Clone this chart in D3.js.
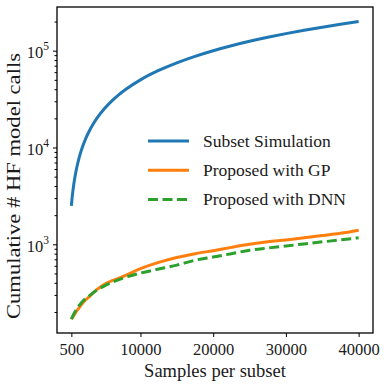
<!DOCTYPE html>
<html>
<head>
<meta charset="utf-8">
<script src="https://cdn.jsdelivr.net/npm/d3@7"></script>
<style>
  body { margin: 0; background: white; }
  text { font-family: "Liberation Serif", "DejaVu Serif", serif; fill: #1a1a1a; }
</style>
</head>
<body>
<div id="chart"></div>
<script>
// samples per subset
var samples = [500, 1000, 2000, 3000, 4000, 5000, 7500, 10000, 12500, 15000, 17500,
               20000, 22500, 25000, 27500, 30000, 32500, 35000, 37500, 40000];
// cumulative HF calls
var withGP = [169, 192, 245, 290, 340, 385, 460, 560, 650, 730, 800,
              860, 930, 1000, 1060, 1110, 1170, 1230, 1300, 1400];
var withDNN = [169, 201, 255, 295, 335, 370, 445, 505, 555, 610, 685,
               740, 800, 870, 915, 960, 1010, 1060, 1110, 1170];

// subset simulation curve is smooth, so it was read at more points
var subsetSamples = [500, 600, 700, 800, 900, 1000, 1250, 1500, 1750, 2000, 2500, 3000, 3500,
                     4000, 5000, 6000, 7000, 8000, 10000, 12500, 15000, 17500, 20000,
                     22500, 25000, 27500, 30000, 32500, 35000, 37500, 40000];
var subsetSim = [2500, 3000, 3500, 4000, 4500, 5000, 6250, 7500, 8750, 10000, 12500, 15000, 17500,
                 20000, 25000, 30000, 35000, 40000, 50000, 62500, 75000, 87500, 100000,
                 112500, 125000, 137500, 150000, 162500, 175000, 187500, 200000];

var xTicks = [500, 10000, 20000, 30000, 40000];
var yMajor = [1e3, 1e4, 1e5];

var series = [
  {name: "Subset Simulation", xs: subsetSamples, values: subsetSim, color: "#1f77b4", dash: null},
  {name: "Proposed with GP", xs: samples, values: withGP, color: "#ff7f0e", dash: null},
  {name: "Proposed with DNN", xs: samples, values: withDNN, color: "#2ca02c", dash: "10,4.5"}
];

var W = 388, H = 388;
var m = {left: 57, top: 7, right: 15, bottom: 55};

var svg = d3.select("#chart").append("svg")
    .attr("width", W).attr("height", H);

var x = d3.scaleLinear().domain([-1475, 41975]).range([m.left, W - m.right]);
var y = d3.scaleLog().domain([121.3, 282700]).range([H - m.bottom, m.top]);

// minor ticks on log axis
var yMinor = [];
[100, 1000, 10000, 100000].forEach(function(d) {
  for (var k = 2; k <= 9; k++) {
    var v = d * k;
    if (v >= y.domain()[0] && v <= y.domain()[1]) yMinor.push(v);
  }
});

var line = d3.line()
    .curve(d3.curveMonotoneX)
    .x(function(d) { return x(d[0]); })
    .y(function(d) { return y(d[1]); });

var g = svg.append("g");

series.forEach(function(s) {
  g.append("path")
    .datum(s.xs.map(function(n, i) { return [n, s.values[i]]; }))
    .attr("d", line)
    .attr("fill", "none")
    .attr("stroke", s.color)
    .attr("stroke-width", 3)
    .attr("stroke-dasharray", s.dash)
    .attr("stroke-linejoin", "round");
});

// frame
svg.append("rect")
  .attr("x", m.left).attr("y", m.top)
  .attr("width", W - m.left - m.right).attr("height", H - m.top - m.bottom)
  .attr("fill", "none").attr("stroke", "#000").attr("stroke-width", 1.3);

// x axis
var xAxis = svg.append("g")
  .attr("transform", "translate(0," + (H - m.bottom) + ")")
  .call(d3.axisBottom(x).tickValues(xTicks).tickSize(4).tickPadding(6).tickFormat(d3.format("d")));
xAxis.select(".domain").remove();
xAxis.selectAll("text").attr("font-size", 16.5).style("font-family", "Liberation Serif").attr("fill", "#1a1a1a");

// y axis - minor
var yMin = svg.append("g")
  .attr("transform", "translate(" + m.left + ",0)")
  .call(d3.axisLeft(y).tickValues(yMinor).tickSize(2.5).tickFormat(""));
yMin.select(".domain").remove();

// y axis - major
var yAx = svg.append("g")
  .attr("transform", "translate(" + m.left + ",0)")
  .call(d3.axisLeft(y).tickValues(yMajor).tickSize(4).tickFormat(""));
yAx.select(".domain").remove();
yAx.selectAll(".tick").each(function(d) {
  var t = d3.select(this).append("text")
    .attr("x", -8).attr("y", 7)
    .attr("text-anchor", "end")
    .attr("font-size", 16.5);
  t.append("tspan").text("10");
  t.append("tspan").attr("dy", -8).attr("font-size", 11.5).text(Math.round(Math.log10(d)));
});

// axis labels
svg.append("text")
  .attr("x", (m.left + W - m.right) / 2).attr("y", 377)
  .attr("text-anchor", "middle").attr("font-size", 18.5)
  .text("Samples per subset");

svg.append("text")
  .attr("transform", "translate(20,186) rotate(-90)")
  .attr("text-anchor", "middle").attr("font-size", 19)
  .attr("textLength", 266).attr("lengthAdjust", "spacingAndGlyphs")
  .text("Cumulative # HF model calls");

// legend
var leg = svg.append("g").attr("transform", "translate(148,141)");
series.forEach(function(s, i) {
  var row = leg.append("g").attr("transform", "translate(0," + i * 29.2 + ")");
  row.append("line")
    .attr("x1", 0).attr("x2", 41).attr("y1", 0).attr("y2", 0)
    .attr("stroke", s.color).attr("stroke-width", 3)
    .attr("stroke-dasharray", s.dash);
  row.append("text")
    .attr("x", 55).attr("y", 6)
    .attr("font-size", 17.5)
    .text(s.name);
});
</script>
</body>
</html>
